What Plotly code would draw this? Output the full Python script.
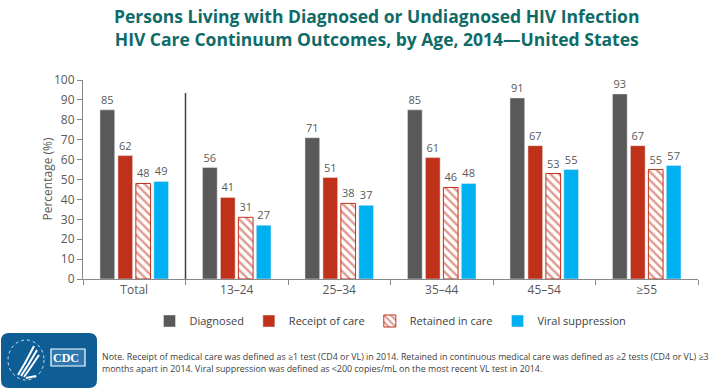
import plotly.graph_objects as go

categories = ["Total", "13–24", "25–34", "35–44", "45–54", "≥55"]
diagnosed = [85, 56, 71, 85, 91, 93]
receipt = [62, 41, 51, 61, 67, 67]
retained = [48, 31, 38, 46, 53, 55]
viral = [49, 27, 37, 48, 55, 57]

FONT = "Open Sans, sans-serif"
GRAY = "#595959"
RED = "#C0311A"
BLUE = "#00B0F0"
TXT = "#595959"
LOGO = "#0E5E95"

W, H = 728, 390
ML, MR, MT, MB = 83, 30, 80, 111
PW, PH = W - ML - MR, H - MT - MB


def px(x):
    return (x - ML) / PW


def py(y):
    return (H - MB - y) / PH


fig = go.Figure()
fig.add_bar(name="Diagnosed", x=categories, y=diagnosed, marker=dict(color=GRAY),
            text=diagnosed, textposition="outside")
fig.add_bar(name="Receipt of care", x=categories, y=receipt, marker=dict(color=RED),
            text=receipt, textposition="outside")
fig.add_bar(name="Retained in care", x=categories, y=retained,
            marker=dict(color="white", line=dict(color=RED, width=1),
                        pattern=dict(shape="\\", fgcolor=RED, bgcolor="white", size=6, solidity=0.4)),
            text=retained, textposition="outside")
fig.add_bar(name="Viral suppression", x=categories, y=viral, marker=dict(color=BLUE),
            text=viral, textposition="outside")

fig.update_traces(textfont=dict(color=TXT, size=11, family=FONT), cliponaxis=False)

fig.add_shape(type="line", xref="x", yref="y", x0=0.5, x1=0.5, y0=-14, y1=93.5,
              line=dict(color="#404040", width=1.5))

# CDC logo block (rounded rectangle)
x0, x1, y0, y1, r = 1, 97, 333, 388, 8
path = (f"M {px(x0+r)},{py(y0)} L {px(x1-r)},{py(y0)} Q {px(x1)},{py(y0)} {px(x1)},{py(y0+r)} "
        f"L {px(x1)},{py(y1-r)} Q {px(x1)},{py(y1)} {px(x1-r)},{py(y1)} "
        f"L {px(x0+r)},{py(y1)} Q {px(x0)},{py(y1)} {px(x0)},{py(y1-r)} "
        f"L {px(x0)},{py(y0+r)} Q {px(x0)},{py(y0)} {px(x0+r)},{py(y0)} Z")
fig.add_shape(type="path", xref="paper", yref="paper", path=path,
              fillcolor=LOGO, line=dict(color=LOGO, width=0), layer="above")
fig.add_shape(type="rect", xref="paper", yref="paper", x0=px(51), x1=px(85), y0=py(366), y1=py(349),
              fillcolor="#2F78AE", line=dict(color="white", width=1.2), layer="above")
fig.add_annotation(text="<b>CDC</b>", xref="paper", yref="paper", x=px(66), y=py(357.5),
                   xanchor="center", yanchor="middle", showarrow=False,
                   font=dict(color="white", size=12, family="Liberation Serif, serif"))
# HHS seal approximation
fig.add_shape(type="circle", xref="paper", yref="paper", x0=px(8), x1=px(44), y0=py(380), y1=py(340),
              line=dict(color="white", width=0.8, dash="dot"), layer="above")
fig.add_shape(type="path", xref="paper", yref="paper",
              path=(f"M {px(18)},{py(375)} Q {px(26)},{py(362)} {px(34)},{py(346)} "
                    f"M {px(21)},{py(376)} Q {px(29)},{py(364)} {px(37)},{py(350)} "
                    f"M {px(24)},{py(377)} Q {px(31)},{py(367)} {px(39)},{py(355)} "
                    f"M {px(26)},{py(378)} L {px(36)},{py(376)}"),
              line=dict(color="white", width=2), layer="above")

fig.add_annotation(
    text="Note. Receipt of medical care was defined as ≥1 test (CD4 or VL) in 2014. Retained in continuous medical care was defined as ≥2 tests (CD4 or VL) ≥3<br>months apart in 2014. Viral suppression was defined as <200 copies/mL on the most recent VL test in 2014.",
    xref="paper", yref="paper", x=px(100), y=py(349), xanchor="left", yanchor="top", align="left",
    showarrow=False, font=dict(color="#404040", size=8.85, family=FONT))

fig.add_annotation(
    text="<b>Persons Living with Diagnosed or Undiagnosed HIV Infection<br>HIV Care Continuum Outcomes, by Age, 2014—United States</b>",
    xref="paper", yref="paper", x=px(376), y=py(27), xanchor="center", yanchor="middle",
    showarrow=False, font=dict(color="#0F6B68", size=17.5, family=FONT))

fig.add_annotation(text="Percentage (%)", xref="paper", yref="paper", x=px(47), y=0.5,
                   textangle=-90, showarrow=False, xanchor="center", yanchor="middle",
                   font=dict(size=12, color=TXT, family=FONT))

fig.update_layout(
    width=W, height=H,
    margin=dict(l=ML, r=MR, t=MT, b=MB, autoexpand=False),
    paper_bgcolor="white", plot_bgcolor="white",
    barmode="group", bargap=0.3, bargroupgap=0.18,
    font=dict(family=FONT, color=TXT, size=12),
    showlegend=True,
    legend=dict(orientation="h", x=0.5, xanchor="center", y=py(321), yanchor="middle",
                font=dict(size=11, color="#404040"), itemwidth=30, traceorder="normal"),
    yaxis=dict(range=[0, 100], dtick=10, showgrid=False, zeroline=False, automargin=False,
               showline=True, linecolor="#888888", ticks="outside", ticklen=5, tickcolor="#888888",
               tickfont=dict(size=12, color=TXT)),
    xaxis=dict(showline=True, linecolor="#888888", ticks="outside", ticklen=5, tickcolor="#888888",
               automargin=False, tickson="boundaries", tickfont=dict(size=12, color=TXT)),
)

fig.write_html("out.html", config={"displayModeBar": False},
               post_script="document.body.style.margin='0';document.body.style.overflow='hidden';")
